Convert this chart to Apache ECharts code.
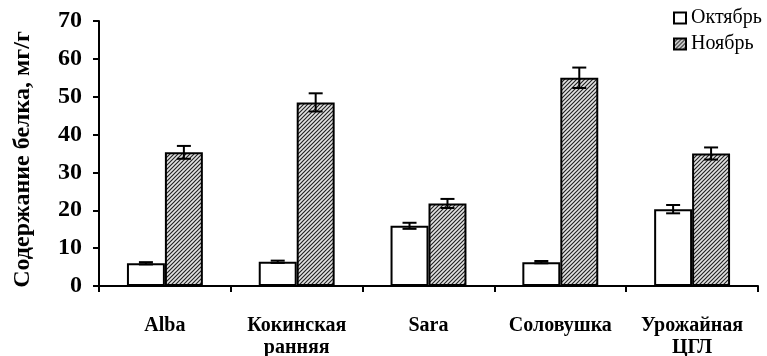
<!DOCTYPE html>
<html>
<head>
<meta charset="utf-8">
<script src="https://cdn.jsdelivr.net/npm/echarts@6/dist/echarts.min.js"></script>
<style>
  html, body { margin: 0; padding: 0; background: #fff; }
  #chart { width: 767px; height: 356px; }
</style>
</head>
<body>
<div id="chart"></div>
<script>
// Protein content by variety, October vs November
const categories = ['Alba', 'Кокинская\nранняя', 'Sara', 'Соловушка', 'Урожайная\nЦГЛ'];
const octValues = [6.0, 6.4, 15.9, 6.3, 20.3];
const octErrors = [0.3, 0.3, 0.8, 0.3, 1.1];
const novValues = [35.3, 48.5, 21.8, 55.0, 35.0];
const novErrors = [1.7, 2.4, 1.2, 2.7, 1.6];
const yTicks = [0, 10, 20, 30, 40, 50, 60, 70];

const SERIF = "'Liberation Serif', 'Times New Roman', serif";

// Diagonal hatch pattern for the November bars
function hatchPattern() {
  const c = document.createElement('canvas');
  c.width = 4; c.height = 4;
  const g = c.getContext('2d');
  g.fillStyle = '#e2e2e2';
  g.fillRect(0, 0, 4, 4);
  g.strokeStyle = '#222';
  g.lineWidth = 1.15;
  g.beginPath();
  g.moveTo(-1, 5); g.lineTo(5, -1);
  g.moveTo(-1, 1); g.lineTo(1, -1);
  g.moveTo(3, 5); g.lineTo(5, 3);
  g.stroke();
  return c;
}
const hatch = { image: hatchPattern(), repeat: 'repeat' };

const BAR_FRAC = 0.288;

function errorSeries(values, errors, side) {
  return {
    type: 'custom',
    silent: true,
    z: 10,
    data: values.map((v, i) => [i, v - errors[i], v + errors[i]]),
    renderItem: function (params, api) {
      const idx = api.value(0);
      const bw = api.size([1, 0])[0] * BAR_FRAC;
      const lo = api.coord([idx, api.value(1)]);
      const hi = api.coord([idx, api.value(2)]);
      const x = lo[0] + side * bw / 2;
      const cap = 7;
      const style = { stroke: '#000', lineWidth: 2, fill: null };
      return {
        type: 'group',
        children: [
          { type: 'line', shape: { x1: x, y1: lo[1], x2: x, y2: hi[1] }, style },
          { type: 'line', shape: { x1: x - cap, y1: lo[1], x2: x + cap, y2: lo[1] }, style },
          { type: 'line', shape: { x1: x - cap, y1: hi[1], x2: x + cap, y2: hi[1] }, style }
        ]
      };
    }
  };
}

const chart = echarts.init(document.getElementById('chart'), null, { renderer: 'canvas' });
chart.setOption({
  animation: false,
  backgroundColor: '#fff',
  grid: { left: 99, right: 9, top: 21, bottom: 70, outerBoundsMode: 'none', containLabel: false },
  legend: {
    orient: 'vertical',
    left: 673,
    top: 8,
    padding: 0,
    itemWidth: 12,
    itemHeight: 11,
    itemGap: 6,
    icon: 'rect',
    data: ['Октябрь', 'Ноябрь'],
    textStyle: { fontFamily: SERIF, fontSize: 20, color: '#000' }
  },
  xAxis: {
    type: 'category',
    data: categories,
    axisLine: { lineStyle: { color: '#000', width: 2 } },
    axisTick: { show: true, interval: 0, length: 6, lineStyle: { color: '#000', width: 2 } },
    axisLabel: {
      interval: 0,
      margin: 29,
      fontFamily: SERIF,
      fontWeight: 'bold',
      fontSize: 20,
      lineHeight: 22,
      color: '#000'
    }
  },
  yAxis: {
    type: 'value',
    min: yTicks[0],
    max: yTicks[yTicks.length - 1],
    interval: 10,
    name: 'Содержание белка, мг/г',
    nameLocation: 'middle',
    nameGap: 64,
    nameTextStyle: {
      fontFamily: SERIF, fontWeight: 'bold', fontSize: 24, color: '#000',
      padding: [0, 12, 0, 0]
    },
    splitLine: { show: false },
    axisLine: { show: true, lineStyle: { color: '#000', width: 2 } },
    axisTick: { show: true, length: 6, lineStyle: { color: '#000', width: 2 } },
    axisLabel: {
      margin: 17,
      fontFamily: SERIF,
      fontWeight: 'bold',
      fontSize: 24,
      color: '#000'
    }
  },
  series: [
    {
      name: 'Октябрь',
      type: 'bar',
      data: octValues,
      barWidth: (BAR_FRAC * 100) + '%',
      barGap: '0%',
      itemStyle: { color: '#fff', borderColor: '#000', borderWidth: 2 }
    },
    {
      name: 'Ноябрь',
      type: 'bar',
      data: novValues,
      barWidth: (BAR_FRAC * 100) + '%',
      barGap: '0%',
      itemStyle: { color: hatch, borderColor: '#000', borderWidth: 2 }
    },
    errorSeries(octValues, octErrors, -1),
    errorSeries(novValues, novErrors, 1)
  ]
});
</script>
</body>
</html>
